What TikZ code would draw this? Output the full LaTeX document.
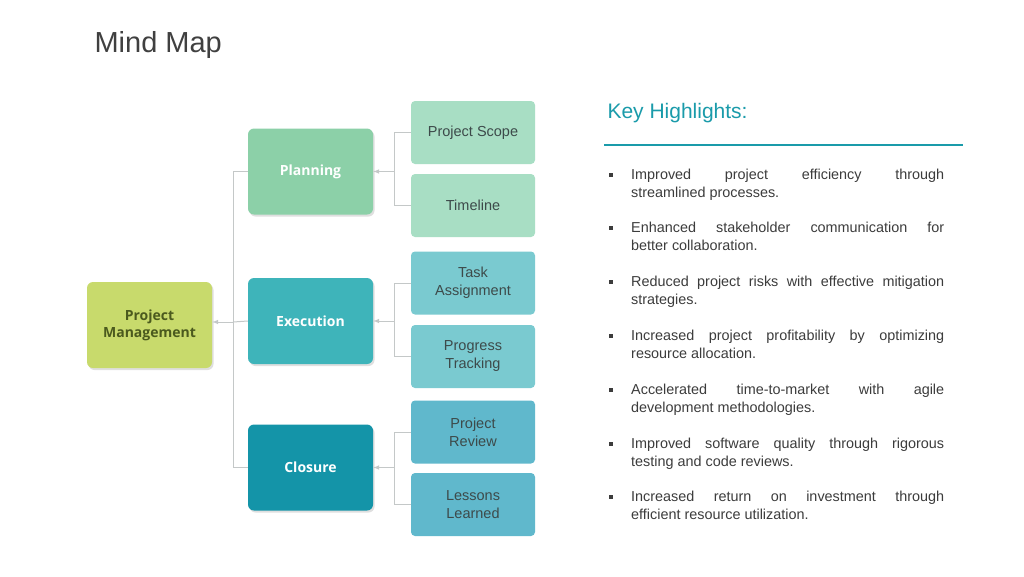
\documentclass[tikz,border=0pt]{standalone}
\usepackage{fontspec}
\setmainfont{Liberation Sans}
\newfontfamily\boxfont{Open Sans}
\usetikzlibrary{shadows}

\definecolor{pmfill}{HTML}{C8DA6C}
\definecolor{pmtext}{HTML}{4B5A1E}
\definecolor{planfill}{HTML}{8CD0A8}
\definecolor{execfill}{HTML}{3EB4BA}
\definecolor{closefill}{HTML}{1494A8}
\definecolor{leafa}{HTML}{A8DEC4}
\definecolor{leafb}{HTML}{7ACAD0}
\definecolor{leafc}{HTML}{60B8CC}
\definecolor{leaftext}{HTML}{3D4A4A}
\definecolor{keyteal}{HTML}{1A9BAA}
\definecolor{bodytext}{HTML}{3C3C3C}
\definecolor{linkgray}{HTML}{C4C8C8}

\begin{document}
\begin{tikzpicture}[x=1pt,y=-1pt,
  mainbox/.style={rounded corners=6pt,minimum width=125pt,minimum height=86pt,
    align=center,font=\boxfont\bfseries\fontsize{14}{17}\selectfont,text=white,
    drop shadow={shadow xshift=1.5pt,shadow yshift=-2pt,opacity=0.25}},
  leafbox/.style={rounded corners=4pt,minimum width=124pt,minimum height=63pt,
    align=center,font=\fontsize{14.5}{18}\selectfont,text=leaftext},
  link/.style={draw=linkgray,line width=1pt},
  bullet/.style={anchor=north west,inner sep=0pt,text width=313pt,align=justify,
    font=\fontsize{14.4}{18}\selectfont,text=bodytext}]

% background
\fill[white] (0,0) rectangle (1024,576);
\useasboundingbox (0,0) rectangle (1024,576);

% title
\node[anchor=west,font=\fontsize{29}{34}\selectfont,text=black!75] (title) at (91,45) {Mind Map};

% root and branches
\node[mainbox,fill=pmfill,text=pmtext] (pm) at (149.5,325) {Project\\Management};
\node[mainbox,fill=planfill] (plan) at (310.5,171.5) {Planning};
\node[mainbox,fill=execfill] (exec) at (310.5,321) {Execution};
\node[mainbox,fill=closefill] (close) at (310.5,467.5) {Closure};

% leaves
\node[leafbox,fill=leafa] (scope) at (473,132.5) {Project Scope};
\node[leafbox,fill=leafa] (timeline) at (473,205.5) {Timeline};
\node[leafbox,fill=leafb] (task) at (473,283) {Task\\Assignment};
\node[leafbox,fill=leafb] (track) at (473,356.5) {Progress\\Tracking};
\node[leafbox,fill=leafc] (review) at (473,432) {Project\\Review};
\node[leafbox,fill=leafc] (lessons) at (473,504.5) {Lessons\\Learned};

% junctions
\coordinate (mj) at (233,322);
\coordinate (pj) at (394,171.5);
\coordinate (ej) at (394,321);
\coordinate (cj) at (394,467.5);

% connectors
\draw[link] (plan.west) -| (mj);
\draw[link] (close.west) -| (mj);
\draw[link] (exec.west) -- (mj);
\draw[link,-latex] (mj) -- (mj -| pm.east);
\foreach \a/\b/\j/\p in {scope/timeline/pj/plan,task/track/ej/exec,review/lessons/cj/close}
  {
  \draw[link] (\a.west) -| (\j);
  \draw[link] (\b.west) -| (\j);
  \draw[link,-latex] (\j) -- (\p.east);
  }

% highlights
\node[anchor=west,font=\fontsize{21}{25}\selectfont,text=keyteal] (key) at (604,113) {Key Highlights:};
\coordinate (rulel) at (604,145);
\coordinate (ruler) at (963,145);
\draw[keyteal,line width=2pt] (rulel) -- (ruler);

\foreach \y/\txt in {
  169/{Improved project efficiency through\linebreak streamlined processes.},
  222/{Enhanced stakeholder communication for\linebreak better collaboration.},
  276/{Reduced project risks with effective mitigation\linebreak strategies.},
  330/{Increased project profitability by optimizing\linebreak resource allocation.},
  384/{Accelerated time-to-market with agile\linebreak development methodologies.},
  438/{Improved software quality through rigorous\linebreak testing and code reviews.},
  491/{Increased return on investment through\linebreak efficient resource utilization.}}
  {
  \node[bullet] (item\y) at (631,\y) {\txt};
  \fill[bodytext] (611,\y) ++(-1.6,4.4) rectangle ++(3.2,3.2);
  }
\end{tikzpicture}
\end{document}
